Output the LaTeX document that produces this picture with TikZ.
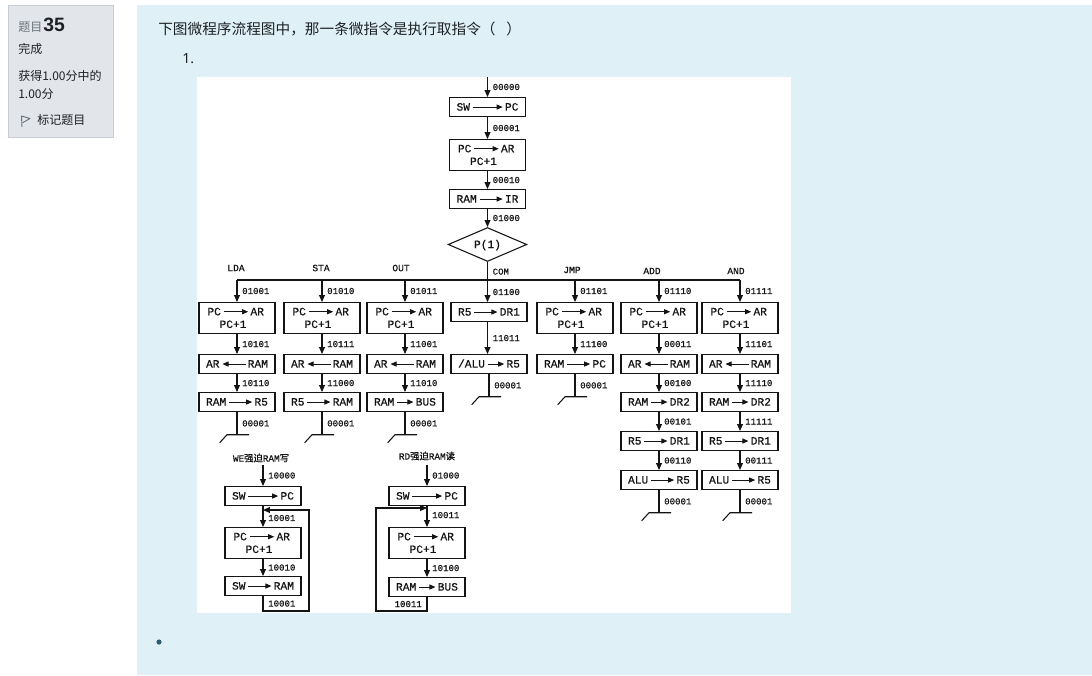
\documentclass[tikz,border=0pt]{standalone}
\usepackage{fontspec}
\setmainfont{Liberation Serif}
\newfontfamily\cjk{Noto Sans CJK SC}
\newfontfamily\uifont{Noto Sans}
\newfontfamily\uibold{Liberation Sans Bold}
\newfontfamily\flowfont{Liberation Mono}[FakeBold=0.6]
\newfontfamily\cjkflow{Noto Sans CJK SC}[FakeBold=0.6]
\usetikzlibrary{shapes.geometric,arrows.meta}

\definecolor{pagebg}{HTML}{DFF0F7}
\definecolor{infobg}{HTML}{E2E5E9}
\definecolor{infoline}{HTML}{C8CDD3}
\definecolor{uitext}{HTML}{1D2125}
\definecolor{uigray}{HTML}{6A737B}
\definecolor{inkc}{HTML}{141414}
\definecolor{dotc}{HTML}{2B5C73}

\tikzset{
  box/.style={draw=inkc, line width=0.8pt, minimum width=57pt, inner sep=0pt, anchor=north},
  optext/.style={font=\flowfont\fontsize{8.4}{9}\selectfont, text=inkc, inner sep=0pt, text height=5.3pt, text depth=0pt},
  code/.style={font=\flowfont\fontsize{6.8}{7}\selectfont, text=inkc, inner sep=0pt, anchor=west, xshift=3.5pt},
  codel/.style={font=\flowfont\fontsize{6.8}{7}\selectfont, text=inkc, inner sep=0pt, anchor=east, xshift=-3.5pt},
  colname/.style={font=\flowfont\fontsize{7.2}{8}\selectfont, text=inkc, inner sep=0pt},
  flow/.style={draw=inkc, line width=0.8pt, -{Triangle[length=5.2pt,width=4.4pt]}},
  opr/.style={draw=inkc, line width=0.75pt, -{Triangle[length=4.6pt,width=3.8pt]}},
  opl/.style={draw=inkc, line width=0.75pt, {Triangle[length=4.6pt,width=3.8pt]}-},
  plain/.style={draw=inkc, line width=0.8pt},
  ui/.style={inner sep=0pt, anchor=base west, text=uitext, font=\cjk\fontsize{9}{10}\selectfont},
}

% single-line micro-operation box: name, centre x, top y, left text, right text, arrow style
\newcommand\opone[6]{%
  \node[box, minimum height=14.25pt] (#1) at (#2,#3) {};
  \node[optext, anchor=west] (#1a) at ([xshift=5.5pt]#1.west) {#4};
  \node[optext, anchor=east] (#1b) at ([xshift=-5.5pt]#1.east) {#5};
  \draw[#6] ([xshift=2pt]#1a.east) -- ([xshift=-1.5pt]#1b.west);
}
% two-line box  PC -> AR / PC+1 : name, centre x, top y
\newcommand\optwo[3]{%
  \node[box, minimum height=23.25pt] (#1) at (#2,#3) {};
  \node[optext, anchor=west] (#1a) at ([xshift=6.5pt,yshift=-7.3pt]#1.north west) {PC};
  \node[optext, anchor=east] (#1b) at ([xshift=-8.5pt,yshift=-7.3pt]#1.north east) {AR};
  \node[optext] (#1c) at ([xshift=-3pt,yshift=-16.8pt]#1.north) {PC+1};
  \draw[opr] ([xshift=2pt]#1a.east) -- ([xshift=-1.5pt]#1b.west);
}
% branch end returning to 00001: box name, label, end coordinate name
\newcommand\term[3]{%
  \coordinate (#3) at ([yshift=-17pt]#1.south);
  \draw[plain] (#1.south) -- node[code]{#2} (#3);
  \draw[plain] ([xshift=-13pt,yshift=-6pt]#3) -- ([xshift=-7.5pt]#3) -- ([xshift=9pt]#3);
}

\begin{document}
\begin{tikzpicture}[x=0.75pt,y=-0.75pt]
\useasboundingbox (0,0) rectangle (1092,675);
\fill[white] (0,0) rectangle (1092,675);
\fill[pagebg] (137,5) rectangle (1092,675);
\filldraw[fill=infobg, draw=infoline, line width=0.75pt] (8.5,5.5) rectangle (113.5,137.5);
\fill[white] (197,77) rectangle (791,613);

% question info panel
\node[ui, text=uigray] (qlabel) at (18,31) {题目};
\node[inner sep=0pt, anchor=base west, text=uitext, font=\uibold\fontsize{14.5}{16}\selectfont] (qnum) at ([xshift=0.5pt]qlabel.base east) {35};
\node[ui] (qstate) at (18,53) {完成};
\node[ui] (qgrade) at (18,80) {获得1.00分中的};
\node[ui] (qgrade2) at (18,98) {1.00分};
\draw[uigray, line width=0.7pt, line join=round] (22,127) -- (21.5,116) -- (30,118.5) -- (23,122.5);
\node[ui] (qflag) at (37,124) {标记题目};

% question text
\node[inner sep=0pt, anchor=base west, text=uitext, font=\cjk\fontsize{11}{12}\selectfont] (qtext) at (158,34) {下图微程序流程图中，那一条微指令是执行取指令（\hspace{8pt}）};
\node[inner sep=0pt, anchor=base west, text=uitext, font=\uifont\fontsize{10.5}{12}\selectfont] (qitem) at (182,63) {1.};
\fill[dotc] (159,642) circle (2.6);

% ---------- common fetch sequence ----------
\coordinate (start) at (487.5,77);
\opone{sw}{487.5}{97}{SW}{PC}{opr}
\optwo{fetch}{487.5}{139}
\opone{ir}{487.5}{189}{RAM}{IR}{opr}
\node[diamond, draw=inkc, line width=0.8pt, minimum width=59pt, minimum height=21.75pt, optext] (p) at (487.5,244.5) {P(1)};
\draw[flow] (start) -- node[code]{00000} (sw.north);
\draw[flow] (sw.south) -- node[code]{00001} (fetch.north);
\draw[flow] (fetch.south) -- node[code]{00010} (ir.north);
\draw[flow] (ir.south) -- node[code]{01000} (p.north);

% ---------- branch bus ----------
\coordinate (bLDA) at (237,280);
\coordinate (bSTA) at (322,280);
\coordinate (bOUT) at (405,280);
\coordinate (bJMP) at (575,280);
\coordinate (bADD) at (659,280);
\coordinate (bAND) at (740,280);
\draw[plain] (bLDA) -- (bAND);
\node[colname] (tLDA) at (236,268) {LDA};
\node[colname] (tSTA) at (321,268) {STA};
\node[colname] (tOUT) at (401,268) {OUT};
\node[colname] (tJMP) at (572,270) {JMP};
\node[colname] (tADD) at (652,271) {ADD};
\node[colname] (tAND) at (736,271) {AND};

% LDA
\optwo{lda1}{237}{302}
\opone{lda2}{237}{354}{AR}{RAM}{opl}
\opone{lda3}{237}{392}{RAM}{R5}{opr}
\draw[flow] (bLDA) -- node[code]{01001} (lda1.north);
\draw[flow] (lda1.south) -- node[code]{10101} (lda2.north);
\draw[flow] (lda2.south) -- node[code]{10110} (lda3.north);
\term{lda3}{00001}{eLDA}

% STA
\optwo{sta1}{322}{302}
\opone{sta2}{322}{354}{AR}{RAM}{opl}
\opone{sta3}{322}{392}{R5}{RAM}{opr}
\draw[flow] (bSTA) -- node[code]{01010} (sta1.north);
\draw[flow] (sta1.south) -- node[code]{10111} (sta2.north);
\draw[flow] (sta2.south) -- node[code]{11000} (sta3.north);
\term{sta3}{00001}{eSTA}

% OUT
\optwo{out1}{405}{302}
\opone{out2}{405}{354}{AR}{RAM}{opl}
\opone{out3}{405}{392}{RAM}{BUS}{opr}
\draw[flow] (bOUT) -- node[code]{01011} (out1.north);
\draw[flow] (out1.south) -- node[code]{11001} (out2.north);
\draw[flow] (out2.south) -- node[code]{11010} (out3.north);
\term{out3}{00001}{eOUT}

% COM
\opone{com1}{489}{302}{R5}{DR1}{opr}
\opone{com2}{489}{354}{/ALU}{R5}{opr}
\draw[flow] (p.south) -- node[code,pos=0.24]{COM} node[code,pos=0.75]{01100} (p.south |- com1.north);
\draw[flow] (com1.south -| p.south) -- node[code]{11011} (com2.north -| p.south);
\term{com2}{00001}{eCOM}

% JMP
\optwo{jmp1}{575}{302}
\opone{jmp2}{575}{354}{RAM}{PC}{opr}
\draw[flow] (bJMP) -- node[code]{01101} (jmp1.north);
\draw[flow] (jmp1.south) -- node[code]{11100} (jmp2.north);
\term{jmp2}{00001}{eJMP}

% ADD
\optwo{add1}{659}{302}
\opone{add2}{659}{354}{AR}{RAM}{opl}
\opone{add3}{659}{392}{RAM}{DR2}{opr}
\opone{add4}{659}{431}{R5}{DR1}{opr}
\opone{add5}{659}{470}{ALU}{R5}{opr}
\draw[flow] (bADD) -- node[code]{01110} (add1.north);
\draw[flow] (add1.south) -- node[code]{00011} (add2.north);
\draw[flow] (add2.south) -- node[code]{00100} (add3.north);
\draw[flow] (add3.south) -- node[code]{00101} (add4.north);
\draw[flow] (add4.south) -- node[code]{00110} (add5.north);
\term{add5}{00001}{eADD}

% AND
\optwo{and1}{740}{302}
\opone{and2}{740}{354}{AR}{RAM}{opl}
\opone{and3}{740}{392}{RAM}{DR2}{opr}
\opone{and4}{740}{431}{R5}{DR1}{opr}
\opone{and5}{740}{470}{ALU}{R5}{opr}
\draw[flow] (bAND) -- node[code]{01111} (and1.north);
\draw[flow] (and1.south) -- node[code]{11101} (and2.north);
\draw[flow] (and2.south) -- node[code]{11110} (and3.north);
\draw[flow] (and3.south) -- node[code]{11111} (and4.north);
\draw[flow] (and4.south) -- node[code]{00111} (and5.north);
\term{and5}{00001}{eAND}

% ---------- forced RAM write ----------
\node[inner sep=0pt, text=inkc, font=\fontsize{7}{8}\selectfont] (we) at (261,458) {{\flowfont WE}{\cjkflow 强迫}{\flowfont RAM}{\cjkflow 写}};
\coordinate (we0) at (263,465);
\opone{wsw}{263}{486}{SW}{PC}{opr}
\optwo{wpc}{263}{527}
\opone{wram}{263}{576}{SW}{RAM}{opr}
\draw[flow] (we0) -- node[code]{10000} (wsw.north);
\draw[flow] (wsw.south) -- node[code,pos=0.57]{10001} (wpc.north);
\draw[flow] (wpc.south) -- node[code]{10010} (wram.north);
\coordinate (wl1) at (263,611);
\coordinate (wl2) at (309,611);
\coordinate (wl3) at (309,510);
\coordinate (wl4) at (263,510);
\draw[flow] (wram.south) -- node[code]{10001} (wl1) -- (wl2) -- (wl3) -- (wl4);

% ---------- forced RAM read ----------
\node[inner sep=0pt, text=inkc, font=\fontsize{7}{8}\selectfont] (rd) at (427,456) {{\flowfont RD}{\cjkflow 强迫}{\flowfont RAM}{\cjkflow 读}};
\coordinate (rd0) at (427,465);
\opone{rsw}{427}{486}{SW}{PC}{opr}
\optwo{rpc}{427}{527}
\opone{rbus}{427}{577}{RAM}{BUS}{opr}
\draw[flow] (rd0) -- node[code]{01000} (rsw.north);
\draw[flow] (rsw.south) -- node[code,pos=0.43]{10011} (rpc.north);
\draw[flow] (rpc.south) -- node[code]{10100} (rbus.north);
\coordinate (rl1) at (427,611);
\coordinate (rl2) at (376,611);
\coordinate (rl3) at (376,508);
\coordinate (rl4) at (427,508);
\draw[flow] (rbus.south) -- node[codel]{10011} (rl1) -- (rl2) -- (rl3) -- (rl4);
\end{tikzpicture}
\end{document}
